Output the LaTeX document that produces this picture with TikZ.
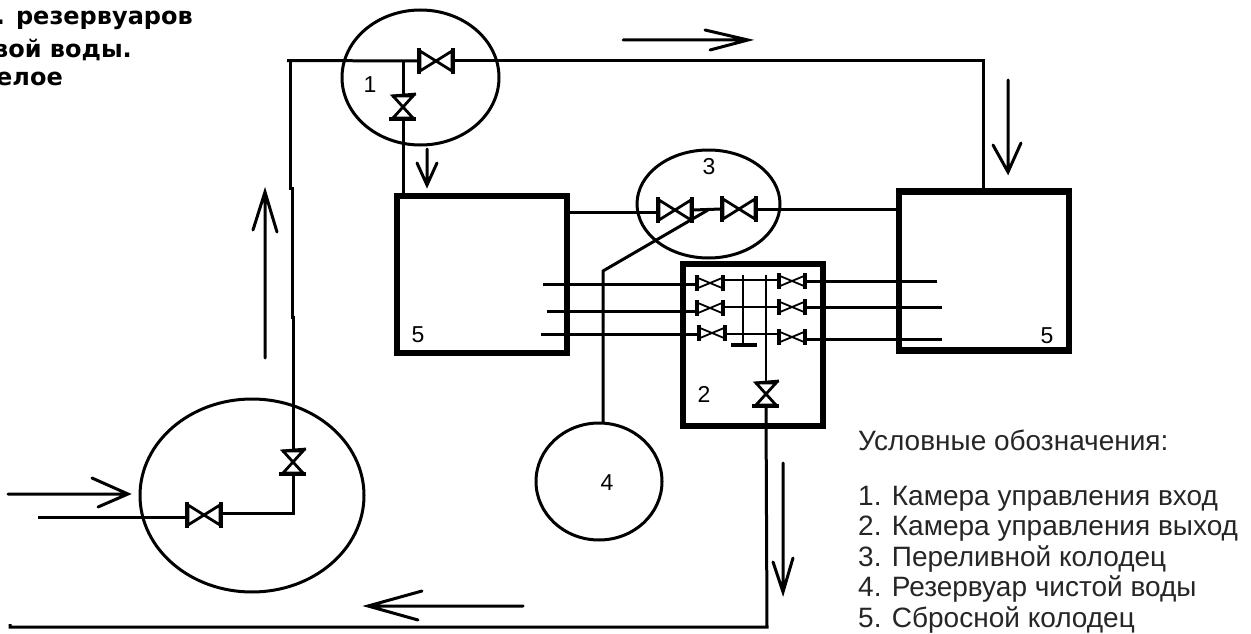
\documentclass[tikz,border=0pt]{standalone}
\usepackage{fontspec}
\setmainfont{Liberation Sans}
\newfontfamily\pixfont{DejaVu Sans}
\usetikzlibrary{shapes.geometric}
\tikzset{
  x=1pt,y=-1pt,
  pipe/.style={line width=3pt,line join=miter},
  thinpipe/.style={line width=2.8pt},
  wellc/.style={ellipse,draw,line width=3pt,inner sep=0,outer sep=0},
  wellb/.style={rectangle,draw,line width=6.5pt,inner sep=0,outer sep=0},
  flow/.style={line width=3pt,line cap=round},
  num/.style={font=\fontsize{23}{23}\selectfont,inner sep=0},
  legend/.style={font=\fontsize{28}{28}\selectfont,anchor=west,inner sep=0,text=black!85},
  topnote/.style={font=\pixfont\bfseries\fontsize{24}{24}\selectfont,anchor=east,inner sep=0},
  pics/bowtie/.style={code={
    \draw[line width=2.8pt,line join=miter] (-16,-10) -- (16,10) -- (16,-10) -- (-16,10) -- cycle;
    \draw[line width=4.5pt] (-17,-13) -- (-17,13) (17,-13) -- (17,13);
    \coordinate (-l) at (-18,0);
    \coordinate (-r) at (18,0);
  }},
  pics/smallbow/.style={code={
    \draw[line width=1.8pt,line join=miter] (-12,-5) -- (12,5) -- (12,-5) -- (-12,5) -- cycle;
    \draw[line width=4pt] (-13,-8) -- (-13,8) (13,-8) -- (13,8);
    \coordinate (-l) at (-14,0);
    \coordinate (-r) at (14,0);
  }},
  pics/vertbow/.style={code={
    \draw[line width=2.8pt,line join=miter] (-10,-11) -- (10,11) -- (-10,11) -- (10,-11) -- cycle;
    \draw[line width=4pt] (-14,12) -- (13,12);
    \draw[line width=2.8pt] (-11,-11) -- (13,-13);
    \coordinate (-t) at (0,-11);
    \coordinate (-b) at (0,12);
  }},
}
\begin{document}
\begin{tikzpicture}
\useasboundingbox (0,0) rectangle (1251,634);
\fill[white] (0,0) rectangle (1251,634);

% wells and chambers
\node[wellc,minimum width=157pt,minimum height=135pt] (c1) at (420.5,77.5) {};
\node[wellc,minimum width=143pt,minimum height=108pt] (c3) at (708.5,204) {};
\node[wellc,minimum width=126pt,minimum height=117pt] (c4) at (599,481.5) {};
\node[wellc,minimum width=224pt,minimum height=193pt] (c0) at (252,495.5) {};
\node[wellb,minimum width=170pt,minimum height=157pt] (bl) at (482,274.5) {};
\node[wellb,minimum width=170pt,minimum height=159pt] (br) at (984,271) {};
\node[wellb,minimum width=140pt,minimum height=162pt] (b2) at (753,345) {};

% valves
\pic (v1h) at (436,61) {bowtie};
\pic (v1v) at (403,107) {vertbow};
\pic (v3a) at (675,210) {bowtie};
\pic (v3b) at (739,209) {bowtie};
\pic (v0h) at (204,515) {bowtie};
\pic (v0v) at (293,462) {vertbow};
\pic (v2v) at (766,394) {vertbow};
\pic (sl1) at (710,283) {smallbow};
\pic (sl2) at (710,308) {smallbow};
\pic (sl3) at (712,333) {smallbow};
\pic (sr1) at (792,281) {smallbow};
\pic (sr2) at (792,307) {smallbow};
\pic (sr3) at (792,337) {smallbow};

% free ends and bends
\coordinate (topL) at (287,60.5);
\coordinate (topLd) at (290,60);
\coordinate (kink) at (290,188);
\coordinate (kink2) at (292,188);
\coordinate (kink3) at (292,317);
\coordinate (kink4) at (293,317);
\coordinate (topR) at (983,61);
\coordinate (tee1) at (403,61);
\coordinate (brtop) at (983,190);
\coordinate (bltop) at (403,193);
\coordinate (blr) at (566,212);
\coordinate (brl) at (899,209);
\coordinate (in0) at (38,517);
\coordinate (elbow0) at (293,513);
\coordinate (hl1) at (543,284);
\coordinate (hl2) at (547,311);
\coordinate (hl3) at (541,334);
\coordinate (hr1) at (937,281);
\coordinate (hr2) at (942,307);
\coordinate (hr3) at (942,339);
\coordinate (th1) at (725,280);
\coordinate (th2) at (725,307);
\coordinate (th3) at (727,334);
\coordinate (diag) at (708,210);
\coordinate (diagb) at (603,271);
\coordinate (c4top) at (603,423);
\coordinate (t1) at (743,275);
\coordinate (t1b) at (743,345);
\coordinate (b1a) at (731,345);
\coordinate (b1b) at (757,345);
\coordinate (t2) at (766,275);
\coordinate (botR) at (767,627);
\coordinate (botL) at (10,627);
\coordinate (botLt) at (10,624);

% upper pipes
\draw[pipe] (v1h-l) -- (topL);
\draw[pipe] (topLd) -- (kink) -- (kink2) -- (kink3) -- (kink4) -- (v0v-t);
\draw[pipe] (v1h-r) -- (topR) -- (brtop);
\draw[pipe] (tee1) -- (v1v-t);
\draw[pipe] (v1v-b) -- (bltop);
% pipes through well 3
\draw[pipe] (blr) -- (blr -| v3a-l);
\draw[pipe] (v3a-r) -- (v3b-l);
\draw[pipe] (v3b-r) -- (brl);
\draw[pipe] (diag) -- (diagb) -- (c4top);
% lower-left well
\draw[pipe] (in0) -- (in0 -| v0h-l);
\draw[pipe] (elbow0 -| v0h-r) -- (elbow0) -- (v0v-b);
% overflow lines
\draw[pipe] (hl1) -- (hl1 -| sl1-l);
\draw[pipe] (hl2) -- (hl2 -| sl2-l);
\draw[pipe] (hl3) -- (hl3 -| sl3-l);
\draw[pipe] (sr1-r) -- (hr1);
\draw[pipe] (sr2-r) -- (hr2);
\draw[pipe] (hr3 -| sr3-r) -- (hr3);
\draw[thinpipe] (th1) -- (th1 -| sr1-l);
\draw[thinpipe] (th2) -- (th2 -| sr2-l);
\draw[thinpipe] (th3) -- (th3 -| sr3-l);
\draw[thinpipe] (t1) -- (t1b);
\draw[line width=3.5pt] (b1a) -- (b1b);
\draw[thinpipe] (t2) -- (v2v-t);
\draw[pipe] (v2v-b) -- (botR) -- (botL) -- (botLt);

% flow arrows
\draw[flow] (623,40) -- (748,40) (705,30) -- (748,40) -- (710,50);
\draw[flow] (427,149) -- (427,185) (417,163) -- (427,185) -- (437,163);
\draw[flow] (1008,80) -- (1008,172) (993,145) -- (1008,172) -- (1021,143);
\draw[flow] (265,358) -- (265,192) (253,230) -- (265,192) -- (277,232);
\draw[flow] (783,463) -- (783,592) (773,562) -- (783,592) -- (793,558);
\draw[flow] (523,606) -- (368,606) (422,591) -- (368,606) -- (418,620);
\draw[flow] (8,494) -- (128,494) (92,478) -- (128,494) -- (98,507);

% numbers
\node[num] (n1) at (370,85) {1};
\node[num] (n3) at (709,167) {3};
\node[num] (n5a) at (418,335) {5};
\node[num] (n5b) at (1047,336) {5};
\node[num] (n2) at (704,394) {2};
\node[num] (n4) at (607,483) {4};

% legend
\node[legend] (lg0) at (858,440) {Условные обозначения:};
\node[legend] (lg1) at (858,499) {1. Камера управления вход};
\node[legend] (lg2) at (858,529) {2. Камера управления выход};
\node[legend] (lg3) at (858,559) {3. Переливной колодец};
\node[legend] (lg4) at (858,589) {4. Резервуар чистой воды};
\node[legend] (lg5) at (858,620) {5. Сбросной колодец};

% clipped note
\node[topnote] (tn1) at (193,20) {. резервуаров};
\node[topnote] (tn2) at (132,50) {вой воды.};
\node[topnote] (tn3) at (63,79) {елое};
\end{tikzpicture}
\end{document}
